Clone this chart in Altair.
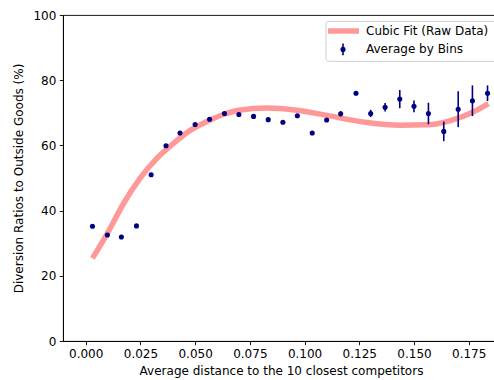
import altair as alt
import pandas as pd

# Binned averages
bin_x = [0.0031, 0.0099, 0.0163, 0.0232, 0.0299, 0.0367, 0.0431, 0.0500, 0.0566, 0.0634,
         0.0700, 0.0767, 0.0834, 0.0901, 0.0967, 0.1035, 0.1101, 0.1165, 0.1235, 0.1302,
         0.1368, 0.1435, 0.1500, 0.1566, 0.1636, 0.1702, 0.1767, 0.1836]
bin_y = [35.2, 32.5, 31.9, 35.3, 51.0, 59.9, 63.8, 66.4, 68.0, 69.8,
         69.5, 68.9, 67.9, 67.1, 69.1, 63.8, 67.8, 69.7, 76.0, 69.8,
         71.7, 74.2, 72.0, 69.8, 64.3, 71.1, 73.7, 76.0]
bin_err = [0.2, 0.2, 0.2, 0.2, 0.2, 0.2, 0.2, 0.2, 0.2, 0.2,
           0.2, 0.2, 0.2, 0.2, 0.3, 0.3, 0.5, 0.8, 0.3, 1.1,
           1.3, 2.8, 1.8, 3.3, 3.0, 5.5, 4.7, 2.4]

# Cubic fit curve
fit_x = [0.0031, 0.0103, 0.0172, 0.0248, 0.0325, 0.0401, 0.0477, 0.0554, 0.0625, 0.0700,
         0.0828, 0.0965, 0.1102, 0.1285, 0.1438, 0.1560, 0.1667, 0.1773, 0.1840]
fit_y = [25.4, 33.5, 42.1, 49.9, 56.0, 60.6, 64.6, 67.3, 69.4, 70.8,
         71.5, 70.8, 69.2, 67.0, 66.2, 66.3, 67.6, 70.3, 72.8]

FIT = "Cubic Fit (Raw Data)"
AVG = "Average by Bins"
FIT_COLOR = "#ff9999"
AVG_COLOR = "#000080"
FONT = "DejaVu Sans"

bins = pd.DataFrame({"x": bin_x, "y": bin_y, "err": bin_err})
bins["lo"] = bins["y"] - bins["err"]
bins["hi"] = bins["y"] + bins["err"]
fit = pd.DataFrame({"x": fit_x, "y": fit_y})
leg_fit = pd.DataFrame({"label": [FIT]})
leg_avg = pd.DataFrame({"label": [AVG]})

xscale = alt.Scale(domain=[-0.01037, 0.18884], nice=False, zero=False)
yscale = alt.Scale(domain=[0, 100], nice=False)
xaxis = alt.Axis(title="Average distance to the 10 closest competitors",
                 values=[0, 0.025, 0.05, 0.075, 0.1, 0.125, 0.15, 0.175], format=".3f")
yaxis = alt.Axis(title="Diversion Ratios to Outside Goods (%)",
                 values=[0, 20, 40, 60, 80, 100], format="d")

curve = alt.Chart(fit).mark_line(strokeWidth=5.5, interpolate="monotone", color=FIT_COLOR).encode(
    x=alt.X("x:Q", scale=xscale, axis=xaxis),
    y=alt.Y("y:Q", scale=yscale, axis=yaxis),
)
errs = alt.Chart(bins).mark_rule(strokeWidth=1.6, color=AVG_COLOR).encode(
    x=alt.X("x:Q", scale=xscale),
    y=alt.Y("lo:Q", scale=yscale),
    y2="hi:Q",
)
pts = alt.Chart(bins).mark_circle(size=26, opacity=1, color=AVG_COLOR).encode(
    x=alt.X("x:Q", scale=xscale),
    y=alt.Y("y:Q", scale=yscale),
)

# legend (matplotlib style, upper right inside the axes); positions relative to plot origin
leg_box = alt.Chart(leg_fit).mark_rect(
    fill="white", fillOpacity=0.8, stroke="#cccccc", strokeWidth=1, cornerRadius=3
).encode(x=alt.value(263), x2=alt.value(457), y=alt.value(6.3), y2=alt.value(46.3))
leg_line = alt.Chart(leg_fit).mark_rule(color=FIT_COLOR, strokeWidth=5.5).encode(
    x=alt.value(265), x2=alt.value(296), y=alt.value(16))
leg_bar = alt.Chart(leg_avg).mark_rule(color=AVG_COLOR, strokeWidth=1.6).encode(
    x=alt.value(280), y=alt.value(28.6), y2=alt.value(40.2))
leg_dot = alt.Chart(leg_avg).mark_circle(size=26, opacity=1, color=AVG_COLOR).encode(
    x=alt.value(280), y=alt.value(34.4))
leg_txt1 = alt.Chart(leg_fit).mark_text(
    align="left", baseline="middle", font=FONT, fontSize=12, color="black"
).encode(x=alt.value(303), y=alt.value(16), text="label:N")
leg_txt2 = alt.Chart(leg_avg).mark_text(
    align="left", baseline="middle", font=FONT, fontSize=12, color="black"
).encode(x=alt.value(303), y=alt.value(34.4), text="label:N")

chart = alt.layer(curve, errs, pts, leg_box, leg_line, leg_bar, leg_dot, leg_txt1, leg_txt2).properties(
    width=436, height=326,
    autosize=alt.AutoSizeParams(type="none"),
    padding={"left": 63, "top": 15, "right": -5, "bottom": 39},
).configure_view(stroke="black", strokeWidth=0.9).configure_axis(
    grid=False, domainColor="black", domainWidth=0.9, tickColor="black", tickWidth=0.9,
    tickSize=3.7, labelPadding=3.5, labelFont=FONT, labelFontSize=12, labelColor="black",
    titleFont=FONT, titleFontSize=12, titleFontWeight="normal", titleColor="black",
).configure_axisX(titlePadding=6).configure_axisY(titlePadding=7)

chart.save("out.html", embed_options={"renderer": "svg", "actions": False})
